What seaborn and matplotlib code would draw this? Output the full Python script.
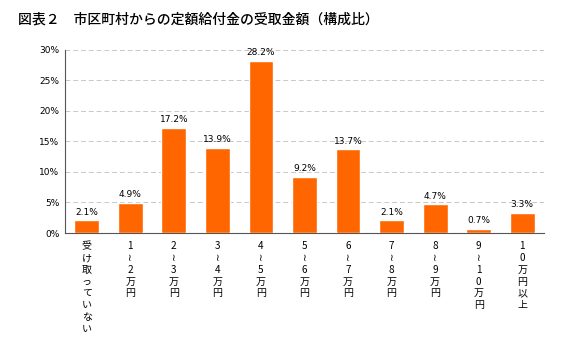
import matplotlib
matplotlib.use("Agg")
import matplotlib.pyplot as plt
import seaborn as sns
import numpy as np
import pandas as pd

# データ
categories = ["受け取っていない", "1〜2万円", "2〜3万円", "3〜4万円", "4〜5万円",
              "5〜6万円", "6〜7万円", "7〜8万円", "8〜9万円", "9〜10万円", "10万円以上"]
shares = [2.1, 4.9, 17.2, 13.9, 28.2, 9.2, 13.7, 2.1, 4.7, 0.7, 3.3]
tick_labels = [
    "受\nけ\n取\nっ\nて\nい\nな\nい",
    "1\n≀\n2\n万\n円",
    "2\n≀\n3\n万\n円",
    "3\n≀\n4\n万\n円",
    "4\n≀\n5\n万\n円",
    "5\n≀\n6\n万\n円",
    "6\n≀\n7\n万\n円",
    "7\n≀\n8\n万\n円",
    "8\n≀\n9\n万\n円",
    "9\n≀\n1\n0\n万\n円",
    "1\n0\n万\n円\n以\n上",
]
yticks = [0, 5, 10, 15, 20, 25, 30]

sns.set_style("white")
plt.rcParams['font.family'] = ['Noto Sans CJK JP', 'DejaVu Sans']

df = pd.DataFrame({"区分": categories, "構成比": shares})

fig = plt.figure(figsize=(5.72, 3.52), dpi=100)
ax = fig.add_axes([0.1136, 0.338, 0.8374, 0.521])

sns.barplot(data=df, x="区分", y="構成比", color="#FF6600", width=0.57,
            saturation=1, ax=ax, zorder=3)

for i, v in enumerate(shares):
    ax.text(i, v + 0.6, f"{v}%", ha="center", va="bottom", fontsize=6.5,
            color="black", family=['DejaVu Sans'])

ax.set_ylim(0, 30)
ax.set_xlim(-0.5, len(categories) - 0.5)
ax.set_yticks(yticks)
ax.set_yticklabels([f"{t}%" for t in yticks], fontsize=6.5, color="black",
                   family=['DejaVu Sans'])
ax.set_xticks(range(len(categories)))
ax.set_xticklabels(tick_labels, fontsize=7.2, linespacing=1.22, va="top",
                   color="black")
ax.tick_params(axis="x", length=0, pad=6)
ax.set_xticks(np.arange(len(categories) + 1) - 0.5, minor=True)
ax.tick_params(axis="x", which="minor", direction="in", length=3, color="#555555")
ax.tick_params(axis="y", length=0, pad=4)
ax.set_xlabel("")
ax.set_ylabel("")

for t in yticks[1:]:
    ax.axhline(t, color="#C8C8C8", linestyle=(0, (5, 3)), linewidth=0.7, zorder=1)

sns.despine(ax=ax, top=True, right=True)
ax.spines["left"].set_color("#555555")
ax.spines["bottom"].set_color("#555555")
ax.spines["left"].set_linewidth(0.8)
ax.spines["bottom"].set_linewidth(0.8)

fig.text(0.032, 0.945, "図表２　市区町村からの定額給付金の受取金額（構成比）",
         fontsize=10, ha="left", va="center", color="black", fontweight="medium")

fig.savefig("out.png", dpi=100)
